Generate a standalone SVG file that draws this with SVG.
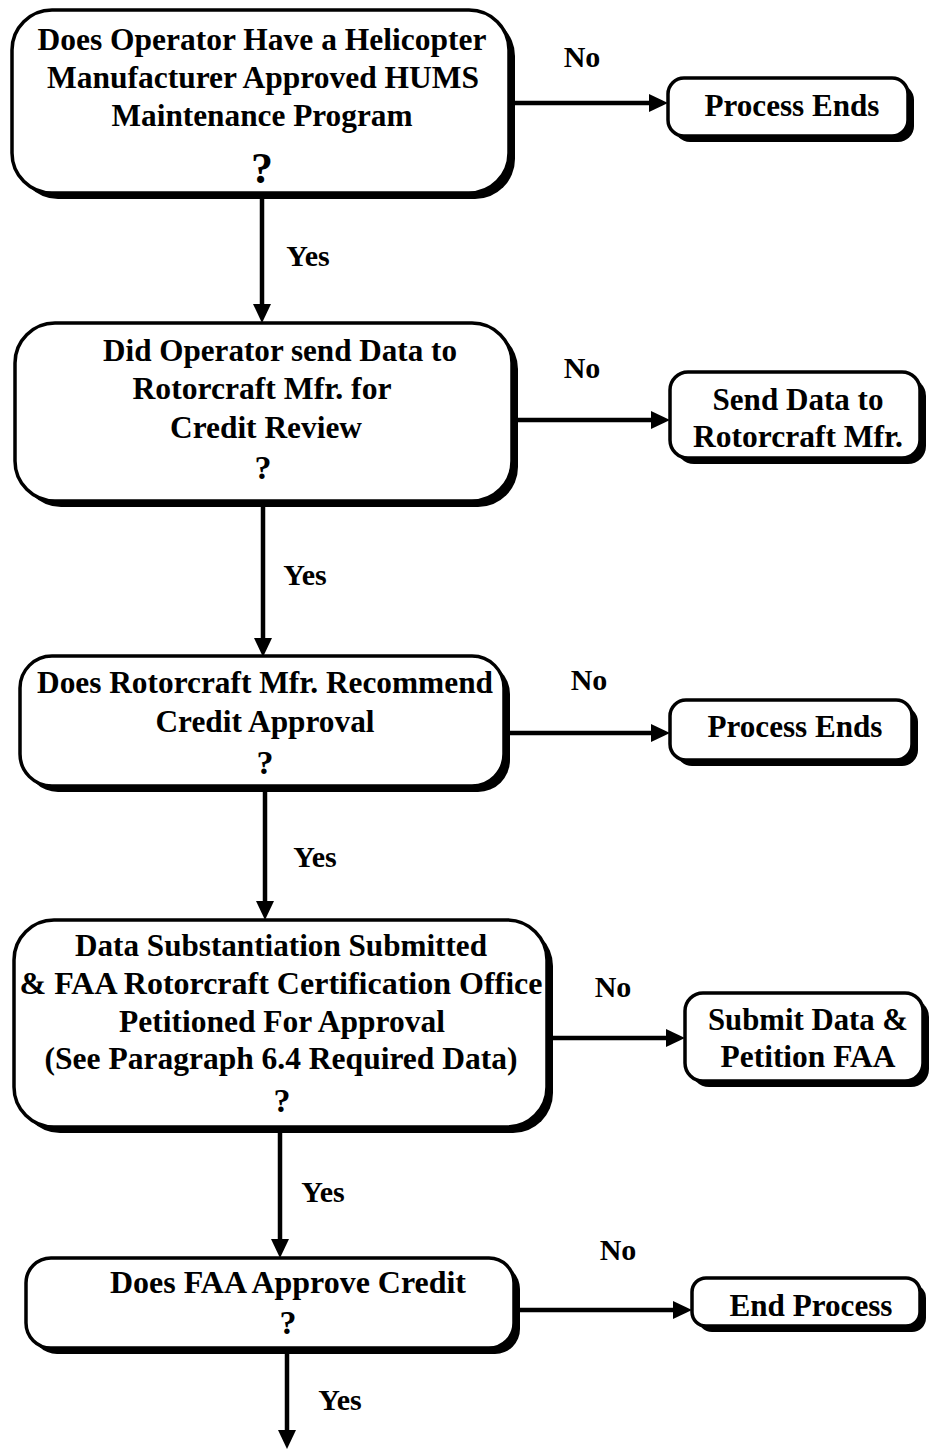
<svg xmlns="http://www.w3.org/2000/svg" width="929" height="1453" viewBox="0 0 929 1453">
<style>
.box{fill:#fff;stroke:#000;stroke-width:3.5}
.sh{fill:#000}
text{font-family:"Liberation Serif","Times New Roman",serif;font-weight:bold;fill:#000;text-anchor:middle;font-size:31px}
.lb{font-size:30px}
.q{font-size:44px}
.qs{font-size:34px}
.con{stroke:#000;stroke-width:4.5;fill:none;marker-end:url(#ah)}
</style>
<defs>
<marker id="ah" markerUnits="userSpaceOnUse" markerWidth="20" markerHeight="18" refX="0" refY="9" orient="auto">
<path d="M0,0 L19,9 L0,18 z" fill="#000"/>
</marker>
</defs>
<rect width="929" height="1453" fill="#fff"/>
<g id="connectors">
<line class="con" x1="262" y1="196" x2="262" y2="304"/>
<line class="con" x1="263" y1="503" x2="263" y2="638"/>
<line class="con" x1="265" y1="792" x2="265" y2="901"/>
<line class="con" x1="280" y1="1133" x2="280" y2="1239"/>
<line class="con" x1="287" y1="1354" x2="287" y2="1430"/>
<line class="con" x1="515" y1="103" x2="649" y2="103"/>
<line class="con" x1="518" y1="420" x2="651" y2="420"/>
<line class="con" x1="510" y1="733" x2="651" y2="733"/>
<line class="con" x1="553" y1="1038" x2="666" y2="1038"/>
<line class="con" x1="520" y1="1310" x2="673" y2="1310"/>
<text class="lb" x="582" y="67">No</text>
<text class="lb" x="582" y="378">No</text>
<text class="lb" x="589" y="690">No</text>
<text class="lb" x="613" y="997">No</text>
<text class="lb" x="618" y="1260">No</text>
<text class="lb" x="308" y="266">Yes</text>
<text class="lb" x="305" y="585">Yes</text>
<text class="lb" x="315" y="867">Yes</text>
<text class="lb" x="323" y="1202">Yes</text>
<text class="lb" x="340" y="1410">Yes</text>
</g>
<g id="q1">
<rect class="sh" x="18" y="16" width="497" height="183" rx="40"/>
<rect class="box" x="12" y="10" width="497" height="183" rx="40"/>
<text x="262" y="50" textLength="449" lengthAdjust="spacingAndGlyphs">Does Operator Have a Helicopter</text>
<text x="263" y="88" textLength="432" lengthAdjust="spacingAndGlyphs">Manufacturer Approved HUMS</text>
<text x="262" y="126" textLength="301" lengthAdjust="spacingAndGlyphs">Maintenance Program</text>
<text class="q" x="262" y="183">?</text>
</g>
<g id="end1">
<rect class="sh" x="674" y="84" width="240" height="58" rx="16"/>
<rect class="box" x="668" y="78" width="240" height="58" rx="16"/>
<text x="792" y="116" textLength="175" lengthAdjust="spacingAndGlyphs">Process Ends</text>
</g>
<g id="q2">
<rect class="sh" x="21" y="329" width="497" height="178" rx="40"/>
<rect class="box" x="15" y="323" width="497" height="178" rx="40"/>
<text x="280" y="361" textLength="354" lengthAdjust="spacingAndGlyphs">Did Operator send Data to</text>
<text x="262" y="399" textLength="259" lengthAdjust="spacingAndGlyphs">Rotorcraft Mfr. for</text>
<text x="266" y="438" textLength="192" lengthAdjust="spacingAndGlyphs">Credit Review</text>
<text class="qs" x="263" y="479">?</text>
</g>
<g id="send">
<rect class="sh" x="676" y="378" width="250" height="86" rx="18"/>
<rect class="box" x="670" y="372" width="250" height="86" rx="18"/>
<text x="798" y="410" textLength="171" lengthAdjust="spacingAndGlyphs">Send Data to</text>
<text x="798" y="447" textLength="210" lengthAdjust="spacingAndGlyphs">Rotorcraft Mfr.</text>
</g>
<g id="q3">
<rect class="sh" x="26" y="662" width="484" height="130" rx="32"/>
<rect class="box" x="20" y="656" width="484" height="130" rx="32"/>
<text x="265" y="693" textLength="456" lengthAdjust="spacingAndGlyphs">Does Rotorcraft Mfr. Recommend</text>
<text x="265" y="732" textLength="219" lengthAdjust="spacingAndGlyphs">Credit Approval</text>
<text class="qs" x="265" y="774">?</text>
</g>
<g id="end2">
<rect class="sh" x="676" y="706" width="242" height="60" rx="16"/>
<rect class="box" x="670" y="700" width="242" height="60" rx="16"/>
<text x="795" y="737" textLength="175" lengthAdjust="spacingAndGlyphs">Process Ends</text>
</g>
<g id="q4">
<rect class="sh" x="20" y="926" width="533" height="207" rx="40"/>
<rect class="box" x="14" y="920" width="533" height="207" rx="40"/>
<text x="281" y="956" textLength="412" lengthAdjust="spacingAndGlyphs">Data Substantiation Submitted</text>
<text x="281" y="994" textLength="523" lengthAdjust="spacingAndGlyphs">&amp; FAA Rotorcraft Certification Office</text>
<text x="282" y="1032" textLength="326" lengthAdjust="spacingAndGlyphs">Petitioned For Approval</text>
<text x="281" y="1069" textLength="473" lengthAdjust="spacingAndGlyphs">(See Paragraph 6.4 Required Data)</text>
<text class="qs" x="282" y="1112">?</text>
</g>
<g id="submit">
<rect class="sh" x="691" y="999" width="238" height="88" rx="18"/>
<rect class="box" x="685" y="993" width="238" height="88" rx="18"/>
<text x="808" y="1030" textLength="200" lengthAdjust="spacingAndGlyphs">Submit Data &amp;</text>
<text x="808" y="1067" textLength="175" lengthAdjust="spacingAndGlyphs">Petition FAA</text>
</g>
<g id="q5">
<rect class="sh" x="32" y="1264" width="488" height="90" rx="25"/>
<rect class="box" x="26" y="1258" width="488" height="90" rx="25"/>
<text x="288" y="1293" textLength="356" lengthAdjust="spacingAndGlyphs">Does FAA Approve Credit</text>
<text class="qs" x="288" y="1334">?</text>
</g>
<g id="end3">
<rect class="sh" x="698" y="1284" width="228" height="48" rx="14"/>
<rect class="box" x="692" y="1278" width="228" height="48" rx="14"/>
<text x="811" y="1316" textLength="163" lengthAdjust="spacingAndGlyphs">End Process</text>
</g>
</svg>
